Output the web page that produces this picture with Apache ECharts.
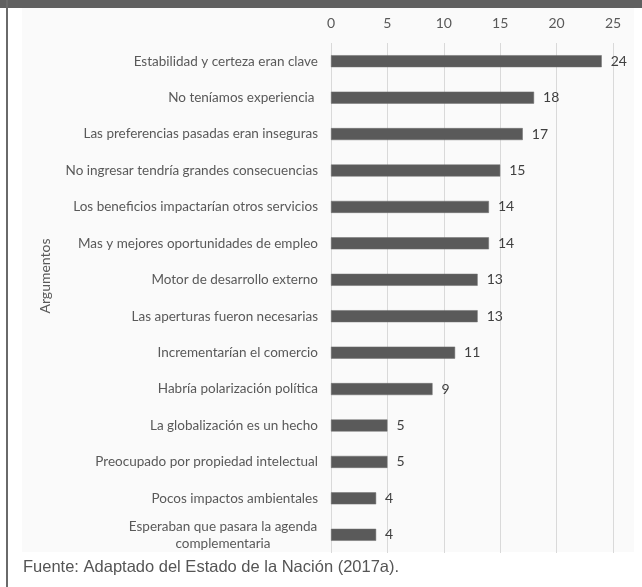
<!DOCTYPE html>
<html>
<head>
<meta charset="utf-8">
<script src="https://cdn.jsdelivr.net/npm/echarts@6/dist/echarts.min.js"></script>
<style>
  html, body { margin: 0; padding: 0; background: #ffffff; }
  #chart { width: 642px; height: 587px; }
</style>
</head>
<body>
<div id="chart"></div>
<script>
// Argument categories, top to bottom
const categories = [
  'Estabilidad y certeza eran clave',
  'No teníamos experiencia ',
  'Las preferencias pasadas eran inseguras',
  'No ingresar tendría grandes consecuencias',
  'Los beneficios impactarían otros servicios',
  'Mas y mejores oportunidades de empleo',
  'Motor de desarrollo externo',
  'Las aperturas fueron necesarias',
  'Incrementarían el comercio',
  'Habría polarización política',
  'La globalización es un hecho',
  'Preocupado por propiedad intelectual',
  'Pocos impactos ambientales',
  'Esperaban que pasara la agenda\ncomplementaria'
];
// Number of mentions per argument
const values = [24, 18, 17, 15, 14, 14, 13, 13, 11, 9, 5, 5, 4, 4];
// Value axis ticks
const xTicks = [0, 5, 10, 15, 20, 25];

const axisName = 'Argumentos';
const sourceNote = 'Fuente: Adaptado del Estado de la Nación (2017a).';

const chart = echarts.init(document.getElementById('chart'), null, { renderer: 'canvas' });

const labelFont = 'Lato, "Noto Sans", sans-serif';

chart.setOption({
  backgroundColor: '#ffffff',
  animation: false,
  graphic: [
    // panel behind the plot
    { type: 'rect', z: -10, shape: { x: 22, y: 8, width: 612, height: 544 }, style: { fill: '#fafafa' } },
    // dark band across the top
    { type: 'rect', z: 10, shape: { x: 0, y: 0, width: 642, height: 8 }, style: { fill: '#606060' } },
    // left frame line
    { type: 'rect', z: 10, shape: { x: 6, y: 0, width: 2, height: 587 }, style: { fill: '#6a6a6a' } },
    // axis name
    { type: 'text', x: 45, y: 276, rotation: Math.PI / 2,
      style: { text: axisName, font: '14px ' + labelFont, fill: '#595959', align: 'center', verticalAlign: 'middle' } },
    // source note
    { type: 'text', x: 23, y: 567,
      style: { text: sourceNote, font: '16.5px "Liberation Sans", Arial, sans-serif', fill: '#555555', align: 'left', verticalAlign: 'middle' } }
  ],
  grid: { left: 331, right: 29, top: 43, bottom: 34, containLabel: false },
  xAxis: {
    type: 'value',
    position: 'top',
    min: xTicks[0],
    max: xTicks[xTicks.length - 1],
    interval: xTicks[1] - xTicks[0],
    axisLine: { show: false },
    axisTick: { show: false },
    axisLabel: { color: '#595959', fontSize: 14, fontFamily: labelFont, margin: 13 },
    splitLine: { show: true, lineStyle: { color: '#d9d9d9', width: 1 } }
  },
  yAxis: {
    type: 'category',
    inverse: true,
    data: categories,
    axisLine: { show: false },
    axisTick: { show: false },
    axisLabel: {
      color: '#595959',
      fontSize: 13.5,
      fontFamily: labelFont,
      margin: 13,
      lineHeight: 17,
      // wrapped labels are centred as a block
      formatter: function (v) {
        return v.indexOf('\n') >= 0 ? '{c|' + v.replace('\n', '}\n{c|') + '}' : v;
      },
      rich: {
        c: { width: 190, align: 'center', color: '#595959', fontSize: 13.5, fontFamily: labelFont, lineHeight: 17 }
      }
    }
  },
  series: [{
    type: 'bar',
    data: values,
    barWidth: 12,
    itemStyle: { color: '#5a5a5a', borderColor: '#6e6e6e', borderWidth: 0.5 },
    label: {
      show: true,
      position: 'right',
      distance: 9,
      color: '#404040',
      fontSize: 14,
      fontFamily: labelFont
    }
  }]
});
</script>
</body>
</html>
